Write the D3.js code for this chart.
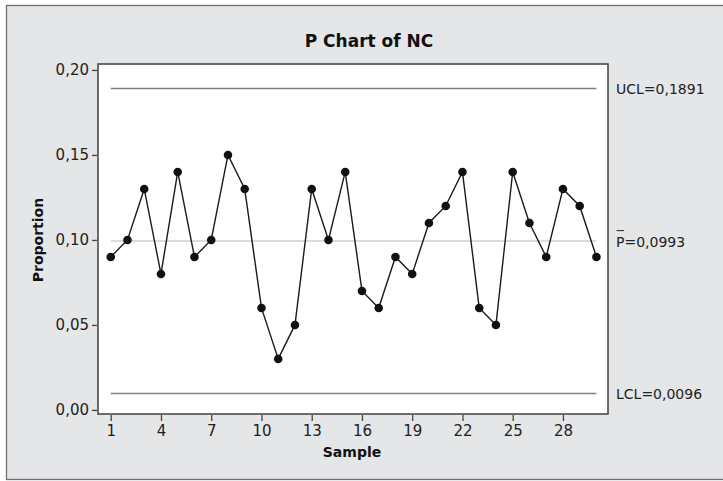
<!DOCTYPE html>
<html>
<head>
<meta charset="utf-8">
<script src="https://cdn.jsdelivr.net/npm/d3@7"></script>
<style>
  html, body { margin: 0; padding: 0; background: #ffffff; }
  svg { display: block; font-family: "DejaVu Sans", Verdana, sans-serif; }
</style>
</head>
<body>
<svg id="chart" width="723" height="481"></svg>
<script>
// Proportion nonconforming per sample
const samples = d3.range(1, 31);
const proportions = [0.09, 0.10, 0.13, 0.08, 0.14, 0.09, 0.10, 0.15, 0.13, 0.06,
                     0.03, 0.05, 0.13, 0.10, 0.14, 0.07, 0.06, 0.09, 0.08, 0.11,
                     0.12, 0.14, 0.06, 0.05, 0.14, 0.11, 0.09, 0.13, 0.12, 0.09];
const xTicks = [1, 4, 7, 10, 13, 16, 19, 22, 25, 28];
const yTicks = [0.00, 0.05, 0.10, 0.15, 0.20];
const ucl = 0.1891, pbar = 0.0993, lcl = 0.0096;

const svg = d3.select("#chart");
const plot = { left: 98, right: 608, top: 64, bottom: 414 };

const locale = d3.formatLocale({ decimal: ",", thousands: ".", grouping: [3], currency: ["", ""] });
const fmt2 = locale.format(".2f");
const fmt4 = locale.format(".4f");

const x = d3.scaleLinear().domain([0.24, 30.69]).range([plot.left, plot.right]);
const y = d3.scaleLinear().domain([-0.0024, 0.2035]).range([plot.bottom, plot.top]);

// Outer panel
svg.append("rect")
  .attr("x", 6.5).attr("y", 5.5).attr("width", 740).attr("height", 474)
  .attr("fill", "#e5e6e8").attr("stroke", "#6e6e6e").attr("stroke-width", 1.3);

// Data region
svg.append("rect")
  .attr("x", plot.left).attr("y", plot.top)
  .attr("width", plot.right - plot.left).attr("height", plot.bottom - plot.top)
  .attr("fill", "#ffffff");

// Axes
const yAxis = d3.axisLeft(y).tickValues(yTicks).tickFormat(fmt2).tickSize(5).tickPadding(3);
const xAxis = d3.axisBottom(x).tickValues(xTicks).tickFormat(d3.format("d")).tickSize(6).tickPadding(4);

const gy = svg.append("g").attr("transform", `translate(${plot.left - 1},0)`).call(yAxis);
const gx = svg.append("g").attr("transform", `translate(0,${plot.bottom + 1})`).call(xAxis);
[gy, gx].forEach(g => {
  g.select(".domain").remove();
  g.selectAll(".tick line").attr("stroke", "#444").attr("stroke-width", 1.3);
  g.selectAll(".tick text").attr("fill", "#222").attr("font-size", 15)
    .attr("font-family", "DejaVu Sans, Verdana, sans-serif");
});

// Control limits and center line
const limits = [
  { v: ucl, color: "#808080", label: "UCL=" + fmt4(ucl) },
  { v: pbar, color: "#cfcfcf", label: "=" + fmt4(pbar), bar: true },
  { v: lcl, color: "#808080", label: "LCL=" + fmt4(lcl) }
];
svg.selectAll("line.limit").data(limits).join("line")
  .attr("class", "limit")
  .attr("x1", x(1)).attr("x2", x(30))
  .attr("y1", d => y(d.v)).attr("y2", d => y(d.v))
  .attr("stroke", d => d.color).attr("stroke-width", 1.5);

const labelX = 616;
limits.forEach(d => {
  const t = svg.append("text")
    .attr("x", labelX).attr("y", y(d.v) + 5.5)
    .attr("font-size", 14).attr("fill", "#222");
  if (d.bar) {
    const p = t.append("tspan").text("P");
    t.append("tspan").text(d.label);
    const w = p.node().getComputedTextLength();
    svg.append("line")
      .attr("x1", labelX + 0.5).attr("x2", labelX + w - 0.5)
      .attr("y1", y(d.v) - 10.5).attr("y2", y(d.v) - 10.5)
      .attr("stroke", "#222").attr("stroke-width", 1);
  } else {
    t.text(d.label);
  }
});

// Series
const pts = samples.map((s, i) => ({ s, p: proportions[i] }));
svg.append("path")
  .datum(pts)
  .attr("fill", "none").attr("stroke", "#1a1a1a").attr("stroke-width", 1.4)
  .attr("d", d3.line().x(d => x(d.s)).y(d => y(d.p)));
svg.selectAll("circle.pt").data(pts).join("circle")
  .attr("class", "pt")
  .attr("cx", d => x(d.s)).attr("cy", d => y(d.p)).attr("r", 4.3)
  .attr("fill", "#111");

// Frame around the data region
svg.append("rect")
  .attr("x", plot.left).attr("y", plot.top)
  .attr("width", plot.right - plot.left).attr("height", plot.bottom - plot.top)
  .attr("fill", "none").attr("stroke", "#4a4a4a").attr("stroke-width", 1.6);

// Titles
svg.append("text")
  .attr("x", 369).attr("y", 47).attr("text-anchor", "middle")
  .attr("font-size", 17).attr("font-weight", "bold").attr("fill", "#111")
  .text("P Chart of NC");
svg.append("text")
  .attr("x", 352).attr("y", 457).attr("text-anchor", "middle")
  .attr("font-size", 14).attr("font-weight", "bold").attr("fill", "#111")
  .text("Sample");
svg.append("text")
  .attr("transform", "translate(43,240) rotate(-90)").attr("text-anchor", "middle")
  .attr("font-size", 14).attr("font-weight", "bold").attr("fill", "#111")
  .text("Proportion");
</script>
</body>
</html>
